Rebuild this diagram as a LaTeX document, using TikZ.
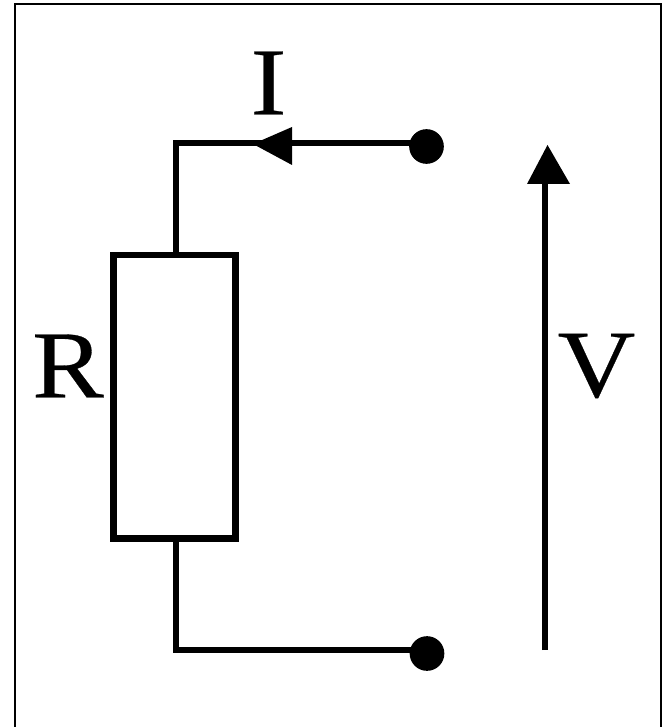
\documentclass[tikz,border=0pt]{standalone}
\usepackage{fontspec}
\setmainfont[FakeStretch=1.12,FakeBold=0.3]{Liberation Serif}
\tikzset{
  wire/.style={line width=4.9pt},
  terminal/.style={circle,fill=black,inner sep=0pt,minimum size=26pt},
  symbol/.style={inner sep=0pt,font=\fontsize{72}{72}\selectfont},
}
\begin{document}
\begin{tikzpicture}[x=0.75pt,y=-0.75pt]
  \useasboundingbox (0,0) rectangle (667,727);
  \draw[line width=1.5pt] (15,727)--(15,4)--(661,4)--(661,727); %no bottom edge
  \coordinate(TL) at (176,143);
  \coordinate(BL) at (176,650);
  \coordinate(VA) at (545,650);
  \coordinate(VB) at (545,180);
  \node[draw,line width=4.9pt,minimum width=91.5pt,minimum height=212.6pt,inner sep=0pt](R) at (174.5,396.7){};
  \node[terminal](T1) at (426.5,146.5){};
  \node[terminal](T2) at (427,653.5){};
  \draw[wire](TL |- R.north)--(TL)--(T1.center |- TL);
  \draw[wire](BL |- R.south)--(BL)--(T2.center |- BL);
  \draw[wire](VA)--(VB);
  \fill(253,144)--(292,127)--(292,165)--cycle;
  \fill(547.5,145)--(570,184)--(527,184)--cycle;
  \node[symbol](LI) at (268.5,83){I};
  \node[symbol](LR) at (68,366){R};
  \node[symbol](LV) at (596.5,366){V};
\end{tikzpicture}
\end{document}
